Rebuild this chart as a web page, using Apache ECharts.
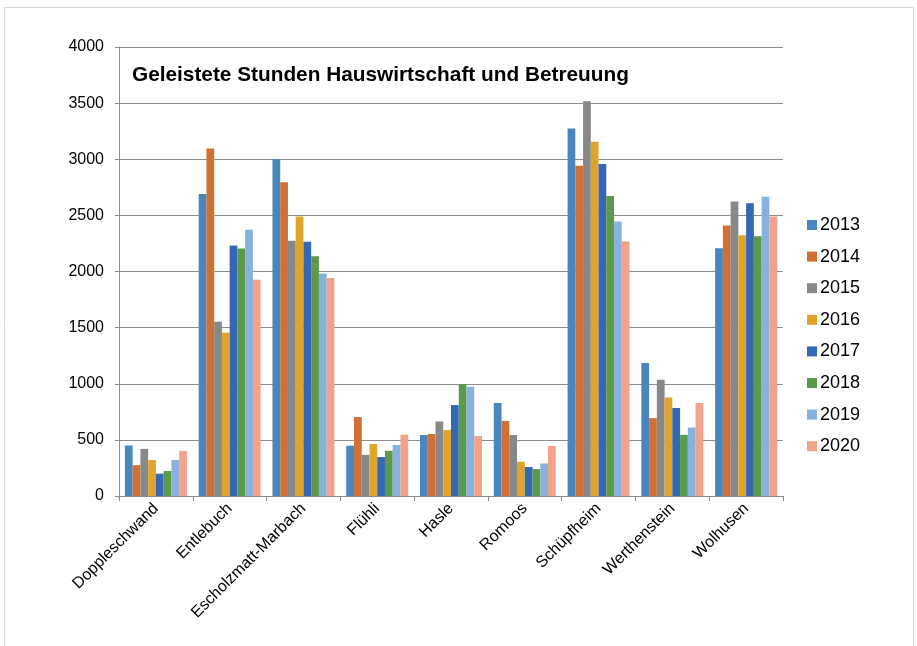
<!DOCTYPE html>
<html lang="de">
<head>
    <meta charset="UTF-8">
    <title>Geleistete Stunden Hauswirtschaft und Betreuung</title>
    <script src="https://cdn.jsdelivr.net/npm/echarts@6/dist/echarts.min.js"></script>
    <style>
        html, body { margin: 0; padding: 0; background: #fff; }
    </style>
</head>
<body>
<div id="container" style="width: 917px;height: 646px"></div>
<script>
// Gemeinden
var gemeinden = ['Doppleschwand', 'Entlebuch', 'Escholzmatt-Marbach', 'Flühli', 'Hasle',
    'Romoos', 'Schüpfheim', 'Werthenstein', 'Wolhusen'];
var jahre = ['2013', '2014', '2015', '2016', '2017', '2018', '2019', '2020'];

// Stunden pro Jahr (Reihenfolge wie gemeinden)
var s2013 = [450, 2690, 3000, 448, 543, 828, 3275, 1185, 2208];
var s2014 = [275, 3095, 2795, 703, 552, 668, 2943, 694, 2409];
var s2015 = [420, 1552, 2273, 367, 664, 543, 3516, 1036, 2623];
var s2016 = [321, 1454, 2489, 463, 587, 305, 3157, 878, 2323];
var s2017 = [199, 2231, 2264, 347, 810, 258, 2958, 783, 2608];
var s2018 = [223, 2204, 2136, 403, 997, 240, 2673, 545, 2314];
var s2019 = [321, 2371, 1982, 454, 973, 290, 2445, 610, 2665];
var s2020 = [402, 1926, 1941, 546, 534, 445, 2267, 828, 2489];

var yTicks = [0, 500, 1000, 1500, 2000, 2500, 3000, 3500, 4000];

var werte = [s2013, s2014, s2015, s2016, s2017, s2018, s2019, s2020];
var farben = ['#4a86be', '#d07034', '#86888a', '#dfa52a', '#3468b5', '#5a9a4a', '#88b2dc', '#f2a28a'];

var chart = echarts.init(document.getElementById('container'));

var series = jahre.map(function (j, i) {
    return {
        name: j,
        type: 'bar',
        data: werte[i],
        itemStyle: { color: farben[i] },
        barGap: '0%',
        barCategoryGap: '16%'
    };
});

chart.setOption({
    backgroundColor: '#ffffff',
    animation: false,
    color: farben,
    textStyle: { fontFamily: 'Liberation Sans, Arial, sans-serif' },
    title: {
        text: 'Geleistete Stunden Hauswirtschaft und Betreuung',
        left: 127,
        top: 60,
        textStyle: {
            color: '#000',
            fontSize: 20.8,
            fontWeight: 'bold',
            fontFamily: 'Liberation Sans, Arial, sans-serif'
        }
    },
    graphic: [{
        type: 'rect',
        shape: { x: 4.5, y: 7.5, width: 909, height: 700 },
        style: { fill: 'none', stroke: '#d4d4d4', lineWidth: 1 },
        silent: true
    }],
    legend: {
        orient: 'vertical',
        left: 802,
        top: 211,
        icon: 'rect',
        itemWidth: 10,
        itemHeight: 10,
        itemGap: 13.6,
        textStyle: { color: '#000', fontSize: 18, padding: [0, 0, 0, -2] },
        data: jahre
    },
    grid: {
        left: 119,
        right: 134,
        top: 47,
        bottom: 150
    },
    xAxis: {
        type: 'category',
        data: gemeinden,
        axisLine: { lineStyle: { color: '#8c8c8c', width: 1 } },
        axisTick: { show: true, length: 5, lineStyle: { color: '#8c8c8c' } },
        axisLabel: {
            rotate: 45,
            color: '#000',
            fontSize: 16,
            margin: 10,
            interval: 0
        }
    },
    yAxis: {
        type: 'value',
        min: yTicks[0],
        max: yTicks[yTicks.length - 1],
        interval: 500,
        axisLine: { show: true, lineStyle: { color: '#8c8c8c', width: 1 } },
        axisTick: { show: true, inside: false, length: 4, lineStyle: { color: '#8c8c8c' } },
        splitLine: { lineStyle: { color: '#8c8c8c', width: 1 } },
        axisLabel: {
            color: '#000',
            fontSize: 16,
            margin: 15,
            formatter: function (v) { return String(v); }
        }
    },
    series: series
});
</script>
</body>
</html>
